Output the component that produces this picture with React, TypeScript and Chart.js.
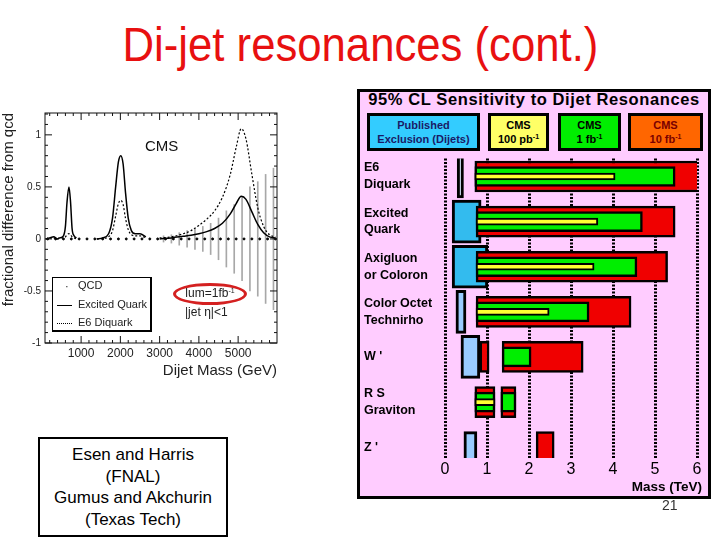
import React, { useEffect, useRef } from "react";
import { Chart, registerables } from "chart.js";
Chart.register(...registerables);

// ---------- Right panel: 95% CL sensitivity (TeV) ----------
const models: string[][] = [
  ["E6", "Diquark"],
  ["Excited", "Quark"],
  ["Axigluon", "or Coloron"],
  ["Color Octet", "Technirho"],
  ["W '"],
  ["R S", "Graviton"],
  ["Z '"],
];
const massTicksTeV = [0, 1, 2, 3, 4, 5, 6];
const publishedExcl = [[0.29, 0.44], [0.17, 0.86], [0.17, 1.02], [0.26, 0.5], [0.38, 0.83], null, null];
const publishedExclZ = [null, null, null, null, null, null, [0.45, 0.76]];
const publishedColors = ["#D8ECFF", "#33BBEE", "#33BBEE", "#99CCFF", "#99CCFF", "#99CCFF", "#99CCFF"];
const reach10fb = [[0.71, 6.1], [0.74, 5.48], [0.74, 5.3], [0.74, 4.43], [1.36, 3.29], [0.71, 1.19], [2.17, 2.6]];
const reach1fb = [[0.71, 5.48], [0.74, 4.7], [0.74, 4.57], [0.74, 3.43], [1.36, 2.05], [0.71, 1.19], null];
const reach100pb = [[0.71, 4.05], [0.74, 3.64], [0.74, 3.55], [0.74, 2.48], null, [0.71, 1.19], null];
const reach10fbExtra = [null, null, null, null, [0.83, 1.05], [1.33, 1.69], null];
const reach1fbExtra = [null, null, null, null, null, [1.33, 1.69], null];

// ---------- Left plot: fractional difference from QCD ----------
const massTicksGeV = [1000, 2000, 3000, 4000, 5000];
const diffTicks = [-1, -0.5, 0, 0.5, 1];
const sigMass = [100, 200, 300, 400, 450, 550, 600, 640, 690, 730, 770, 820, 880, 1150,
  1400, 1550, 1700, 1800, 1880, 1950, 2010, 2070, 2130, 2200, 2280, 2380, 2500, 2650, 2850,
  3000, 3300, 3600, 3800, 4000, 4200, 4400, 4600, 4800, 4950, 5080, 5200, 5350, 5500, 5650, 5800, 5950];
const excitedQuark = [0, 0.01, 0.02, 0.0, 0.01, 0.03, 0.12, 0.35, 0.5, 0.36, 0.1, 0.03, 0.01, null,
  0, 0.01, 0.05, 0.2, 0.5, 0.74, 0.8, 0.72, 0.45, 0.2, 0.08, 0.05, 0.05, 0.02, null,
  0.0, 0.01, 0.025, 0.035, 0.05, 0.07, 0.1, 0.15, 0.24, 0.34, 0.41, 0.38, 0.26, 0.14, 0.06, 0.02, 0.01];
const e6Diquark = [0, 0.01, 0.01, 0, 0.01, 0.01, 0.02, 0.04, 0.05, 0.04, 0.02, 0.01, 0.0, null,
  0, 0.005, 0.02, 0.08, 0.22, 0.34, 0.37, 0.33, 0.2, 0.09, 0.04, 0.03, 0.03, 0.01, null,
  0.01, 0.02, 0.05, 0.08, 0.13, 0.19, 0.27, 0.4, 0.62, 0.88, 1.06, 0.96, 0.62, 0.3, 0.12, 0.04, 0.02];
const qcdMass = [150, 350, 550, 750, 950, 1150, 1350, 1550, 1750, 1950, 2150, 2350, 2550, 2750, 2950,
  3150, 3350, 3550, 3750, 3950, 4150, 4350, 4550, 4750, 4950, 5150, 5350, 5550, 5750, 5950];
const qcdDiff = [0, 0, 0, 0, 0, 0, 0, 0, 0, 0, 0, 0, 0, 0, 0, 0, 0, 0, 0, 0, 0, 0, 0, 0, 0, 0, 0, 0, 0, 0];
const errMass = [3100, 3300, 3500, 3700, 3900, 4100, 4300, 4500, 4700, 4900, 5100, 5300, 5500, 5700, 5900];
const errSize = [0.03, 0.04, 0.06, 0.08, 0.1, 0.12, 0.15, 0.2, 0.27, 0.33, 0.4, 0.5, 0.55, 0.62, 0.68];

const FONT = "'Liberation Sans', Arial, Helvetica, sans-serif";

const frameTicks = {
  id: "frameTicks",
  afterDraw(chart: any) {
    const { ctx, chartArea: a, scales } = chart;
    const xs = scales.x;
    const ys = scales.y;
    ctx.save();
    ctx.strokeStyle = "#111";
    ctx.lineWidth = 1;
    ctx.strokeRect(a.left, a.top, a.right - a.left, a.bottom - a.top);
    ctx.beginPath();
    for (let m = 200; m < xs.max; m += 200) {
      const px = xs.getPixelForValue(m);
      const L = m % 1000 === 0 ? 7 : 3;
      ctx.moveTo(px, a.bottom);
      ctx.lineTo(px, a.bottom - L);
      ctx.moveTo(px, a.top);
      ctx.lineTo(px, a.top + L);
    }
    for (let k = -10; k <= 12; k++) {
      const py = ys.getPixelForValue(k / 10);
      const L = k % 5 === 0 ? 7 : 3;
      ctx.moveTo(a.left, py);
      ctx.lineTo(a.left + L, py);
      ctx.moveTo(a.right, py);
      ctx.lineTo(a.right - L, py);
    }
    ctx.stroke();
    ctx.restore();
  },
};

const rows = (arr: (number[] | null)[]) =>
  arr.map((r, i) => (r ? { x: r, y: i } : null)).filter((d) => d !== null);
const rowColors = (arr: (number[] | null)[], colors: string[]) =>
  arr.map((r, i) => (r ? colors[i] : null)).filter((c) => c !== null);

export default function App() {
  const leftRef = useRef<HTMLCanvasElement>(null);
  const rightRef = useRef<HTMLCanvasElement>(null);

  useEffect(() => {
    Chart.defaults.font.family = FONT;
    const left = new Chart(leftRef.current!, {
      type: "line",
      data: {
        datasets: [
          {
            label: "QCD",
            data: qcdMass.map((m, i) => ({ x: m, y: qcdDiff[i] })),
            showLine: false,
            pointRadius: 1,
            pointBackgroundColor: "#000",
            pointBorderColor: "#000",
            order: 1,
          },
          {
            label: "Excited Quark",
            data: sigMass.map((m, i) => ({ x: m, y: excitedQuark[i] })),
            borderColor: "#000",
            borderWidth: 1.5,
            pointRadius: 0,
            cubicInterpolationMode: "monotone",
            spanGaps: false,
            order: 0,
          },
          {
            label: "E6 Diquark",
            data: sigMass.map((m, i) => ({ x: m, y: e6Diquark[i] })),
            borderColor: "#000",
            borderWidth: 1.2,
            borderDash: [2, 2],
            pointRadius: 0,
            cubicInterpolationMode: "monotone",
            spanGaps: false,
            order: 0,
          },
          {
            type: "bar",
            label: "QCD stat",
            data: errMass.map((m, i) => ({ x: m, y: [-errSize[i], errSize[i]] })),
            backgroundColor: "#a8a8a8",
            barThickness: 1,
            order: 5,
          } as any,
        ],
      },
      options: {
        responsive: false,
        animation: false,
        layout: { padding: { top: 13, right: 15, left: 0, bottom: 0 } },
        plugins: { legend: { display: false }, tooltip: { enabled: false } },
        scales: {
          x: {
            type: "linear",
            min: 80,
            max: 5990,
            offset: false,
            afterBuildTicks: (s: any) => { s.ticks = massTicksGeV.map((v) => ({ value: v })); },
            ticks: { color: "#222", font: { size: 12 }, padding: 3, callback: (v: any) => String(v) },
            grid: { drawOnChartArea: false, drawTicks: false, offset: false },
            border: { display: false },
            title: { display: true, text: "Dijet Mass (GeV)", align: "end", color: "#222", font: { size: 15 }, padding: 0 },
            afterFit: (s: any) => { s.height = 37; },
          },
          y: {
            type: "linear",
            min: -1,
            max: 1.21,
            afterBuildTicks: (s: any) => { s.ticks = diffTicks.map((v) => ({ value: v })); },
            ticks: { color: "#222", font: { size: 10 }, padding: 4, callback: (v: any) => String(v) },
            grid: { drawOnChartArea: false, drawTicks: false },
            border: { display: false },
            title: { display: true, text: "fractional difference from qcd", align: "end", color: "#222", font: { size: 15 }, padding: { top: 0, bottom: 2 } },
            afterFit: (s: any) => { s.width = 45; },
          },
        },
      } as any,
      plugins: [frameTicks],
    });

    const barBase = { borderColor: "#000", borderSkipped: false, grouped: false };
    const right = new Chart(rightRef.current!, {
      type: "bar",
      data: {
        datasets: [
          { ...barBase, label: "CMS 100 pb-1", data: rows(reach100pb), backgroundColor: "#FFFF33", borderWidth: 2, barThickness: 7, order: 0 },
          { ...barBase, label: "CMS 1 fb-1", data: rows(reach1fb), backgroundColor: "#00EE00", borderWidth: 2.5, barThickness: 20, order: 1 },
          { ...barBase, label: "CMS 1 fb-1 (2)", data: rows(reach1fbExtra), backgroundColor: "#00EE00", borderWidth: 2.5, barThickness: 20, order: 1 },
          { ...barBase, label: "CMS 10 fb-1", data: rows(reach10fb), backgroundColor: "#F00000", borderWidth: 2.5, barThickness: 31, order: 2 },
          { ...barBase, label: "CMS 10 fb-1 (2)", data: rows(reach10fbExtra), backgroundColor: "#F00000", borderWidth: 2.5, barThickness: 31, order: 2 },
          { ...barBase, label: "Published", data: rows(publishedExcl), backgroundColor: rowColors(publishedExcl, publishedColors), borderWidth: 3, barThickness: 43, order: 3 },
          { ...barBase, label: "Published Z'", data: rows(publishedExclZ), backgroundColor: rowColors(publishedExclZ, publishedColors), borderWidth: 3, barThickness: 31, order: 3 },
        ] as any,
      },
      options: {
        indexAxis: "y",
        responsive: false,
        animation: false,
        layout: { padding: { top: 8, right: 8, left: 0, bottom: 0 } },
        plugins: { legend: { display: false }, tooltip: { enabled: false } },
        scales: {
          x: {
            type: "linear",
            min: 0,
            max: 6,
            afterBuildTicks: (s: any) => { s.ticks = massTicksTeV.map((v) => ({ value: v })); },
            ticks: { color: "#000", font: { size: 16 }, padding: 2 },
            grid: { color: "#000", lineWidth: 3, drawTicks: false },
            border: { display: false, dash: [2, 1.5] },
            afterFit: (s: any) => { s.height = 24; },
          },
          y: {
            type: "linear",
            reverse: true,
            min: -0.4,
            max: 6.24,
            offset: false,
            afterBuildTicks: (s: any) => { s.ticks = models.map((_, i) => ({ value: i })); },
            ticks: {
              color: "#000",
              crossAlign: "far",
              padding: 0,
              font: { size: 12.5, weight: "bold", lineHeight: 1.35 },
              callback: (v: any) => models[v] ?? "",
            },
            grid: { display: false, offset: false },
            border: { display: false },
            afterFit: (s: any) => { s.width = 81; },
          },
        },
      } as any,
    });
    return () => {
      left.destroy();
      right.destroy();
    };
  }, []);

  const abs = (l: number, t: number, extra: React.CSSProperties = {}): React.CSSProperties => ({
    position: "absolute",
    left: l,
    top: t,
    ...extra,
  });
  const legendBox = (l: number, w: number, bg: string, color: string): React.CSSProperties => ({
    position: "absolute",
    left: l,
    top: 113,
    width: w,
    height: 38,
    boxSizing: "border-box",
    border: "3px solid #000",
    background: bg,
    color,
    fontWeight: "bold",
    fontSize: 11,
    lineHeight: "14px",
    display: "flex",
    flexDirection: "column",
    justifyContent: "center",
    alignItems: "center",
    textAlign: "center",
    whiteSpace: "nowrap",
  });
  const sup: React.CSSProperties = { fontSize: 7, verticalAlign: 4, lineHeight: 0 };

  return (
    <div style={{ position: "absolute", left: 0, top: 0, width: 720, height: 540, overflow: "hidden", background: "#fff", fontFamily: FONT }}>
      <div style={abs(0, 21, { width: 720, textAlign: "center", color: "#E81010", fontSize: 48, lineHeight: "48px" })}>
        <span style={{ display: "inline-block", transform: "scaleX(0.91)", whiteSpace: "nowrap" }}>Di-jet resonances (cont.)</span>
      </div>

      {/* Left plot */}
      <canvas ref={leftRef} width={292} height={280} style={abs(0, 100, { width: 292, height: 280 })} />
      <div style={abs(145, 137, { fontSize: 15, color: "#111" })}>CMS</div>
      <div style={abs(52, 277, { width: 100, height: 55, boxSizing: "border-box", border: "1px solid #000", borderRightWidth: 2, borderBottomWidth: 2, background: "#fff", fontSize: 11, color: "#222" })}>
        <div style={abs(12, 2)}>·</div>
        <div style={abs(25, 1)}>QCD</div>
        <div style={abs(4, 27, { width: 15, borderTop: "1.5px solid #000" })} />
        <div style={abs(25, 20)}>Excited Quark</div>
        <div style={abs(4, 45, { width: 15, borderTop: "1.5px dotted #000" })} />
        <div style={abs(25, 38)}>E6 Diquark</div>
      </div>
      <div style={abs(173, 283, { width: 74, height: 22, boxSizing: "border-box", border: "3px solid #D42020", borderRadius: "50%" })} />
      <div style={abs(173, 286, { width: 74, textAlign: "center", fontSize: 12, color: "#222" })}>
        lum=1fb<span style={sup}>-1</span>
      </div>
      <div style={abs(185, 305, { fontSize: 12, color: "#222" })}>|jet η|&lt;1</div>

      <div style={abs(38, 437, { width: 190, height: 100, boxSizing: "border-box", border: "2px solid #000", display: "flex", flexDirection: "column", justifyContent: "center", alignItems: "center", fontSize: 17, lineHeight: "21.5px", color: "#000" })}>
        <div>Esen and Harris</div>
        <div>(FNAL)</div>
        <div>Gumus and Akchurin</div>
        <div>(Texas Tech)</div>
      </div>

      {/* Right panel */}
      <div style={abs(357, 89, { width: 354, height: 410, boxSizing: "border-box", border: "3px solid #000", background: "#FFCCFF" })} />
      <div style={abs(357, 90, { width: 354, textAlign: "center", fontWeight: "bold", fontSize: 16.5, letterSpacing: 0.6, color: "#000", whiteSpace: "nowrap" })}>
        95% CL Sensitivity to Dijet Resonances
      </div>
      <div style={legendBox(367, 113, "#33CCFF", "#1A1A66")}>
        <div>Published</div>
        <div>Exclusion (Dijets)</div>
      </div>
      <div style={legendBox(488, 61, "#FFFF66", "#000")}>
        <div>CMS</div>
        <div>100 pb<span style={sup}>-1</span></div>
      </div>
      <div style={legendBox(558, 63, "#00EE00", "#000")}>
        <div>CMS</div>
        <div>1 fb<span style={sup}>-1</span></div>
      </div>
      <div style={legendBox(628, 75, "#FF6600", "#7A0000")}>
        <div>CMS</div>
        <div>10 fb<span style={sup}>-1</span></div>
      </div>
      <canvas ref={rightRef} width={341} height={332} style={abs(364, 150, { width: 341, height: 332 })} />
      <div style={abs(600, 479, { width: 102, textAlign: "right", fontWeight: "bold", fontSize: 13.5, color: "#000" })}>Mass (TeV)</div>
      <div style={abs(662, 497, { fontSize: 14, color: "#333" })}>21</div>
    </div>
  );
}
